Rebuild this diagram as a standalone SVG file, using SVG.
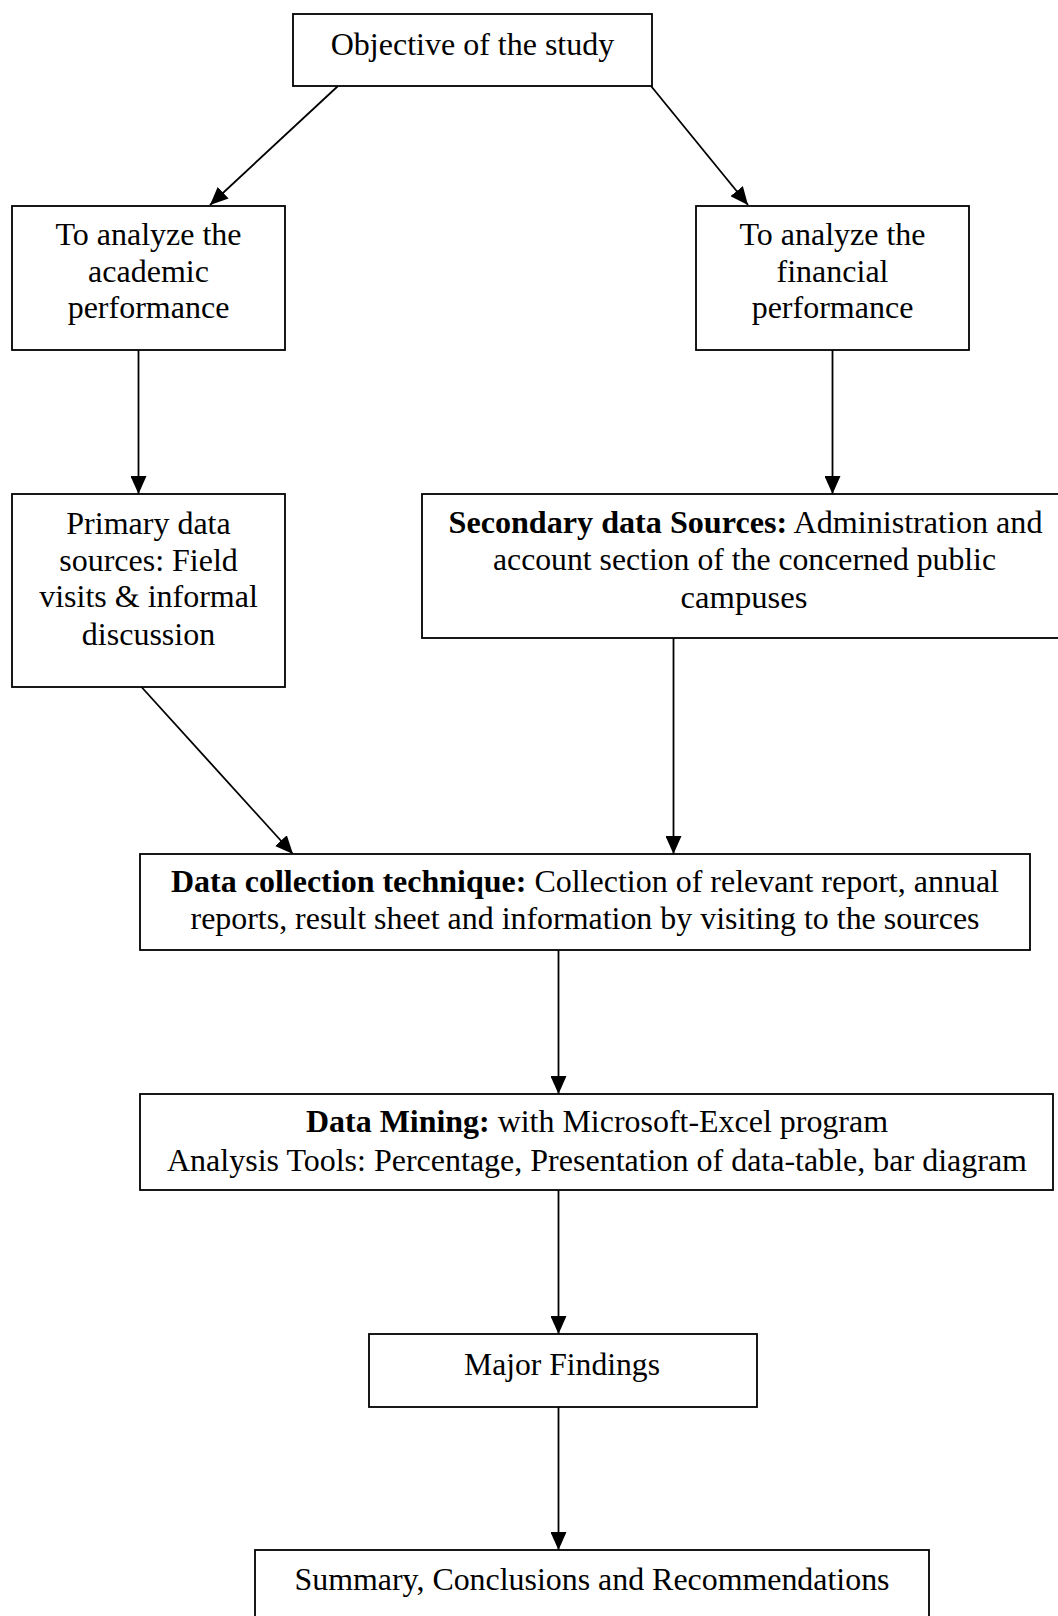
<svg xmlns="http://www.w3.org/2000/svg" width="1058" height="1616" viewBox="0 0 1058 1616">
<style>
.box{fill:#fff;stroke:#000;stroke-width:1.8}
.t{font-family:"Liberation Serif","Times New Roman",serif;font-size:32px;fill:#000;text-anchor:middle}
.c{font-size:31px}
.b{font-weight:bold}
.ln{fill:none;stroke:#000;stroke-width:1.8;marker-end:url(#ah)}
</style>
<defs>
<marker id="ah" markerUnits="userSpaceOnUse" markerWidth="18" markerHeight="16" viewBox="0 0 18 16" refX="18" refY="8" orient="auto">
<path d="M0,0 L18,8 L0,16 Z" fill="#000"/>
</marker>
</defs>
<rect width="1058" height="1616" fill="#fff"/>
<g id="connectors">
<line class="ln" x1="338" y1="86" x2="210" y2="205"/>
<line class="ln" x1="651" y1="86" x2="748" y2="205"/>
<line class="ln" x1="138.5" y1="350" x2="138.5" y2="494"/>
<line class="ln" x1="832.5" y1="350" x2="832.5" y2="494"/>
<line class="ln" x1="141.5" y1="687" x2="293" y2="854"/>
<line class="ln" x1="673.5" y1="638" x2="673.5" y2="854"/>
<line class="ln" x1="558.5" y1="950" x2="558.5" y2="1094"/>
<line class="ln" x1="558.5" y1="1190" x2="558.5" y2="1334"/>
<line class="ln" x1="558.5" y1="1407" x2="558.5" y2="1550"/>
</g>
<g id="objective">
<rect class="box" x="293" y="14" width="359" height="72"/>
<text class="t" x="472.5" y="55">Objective of the study</text>
</g>
<g id="academic">
<rect class="box" x="12" y="206" width="273" height="144"/>
<text class="t" x="148.5" y="245">To analyze the</text>
<text class="t" x="148.5" y="282">academic</text>
<text class="t" x="148.5" y="318">performance</text>
</g>
<g id="financial">
<rect class="box" x="696" y="206" width="273" height="144"/>
<text class="t" x="832.5" y="245">To analyze the</text>
<text class="t" x="832.5" y="282">financial</text>
<text class="t" x="832.5" y="318">performance</text>
</g>
<g id="primary">
<rect class="box" x="12" y="494" width="273" height="193"/>
<text class="t" x="148.5" y="534">Primary data</text>
<text class="t" x="148.5" y="571">sources: Field</text>
<text class="t" x="148.5" y="607">visits &amp; informal</text>
<text class="t" x="148.5" y="645">discussion</text>
</g>
<g id="secondary">
<rect class="box" x="422" y="494" width="648" height="144"/>
<text class="t" x="745.5" y="533" textLength="594" lengthAdjust="spacingAndGlyphs"><tspan class="b">Secondary data Sources:</tspan> Administration and</text>
<text class="t" x="744.5" y="570" textLength="503" lengthAdjust="spacingAndGlyphs">account section of the concerned public</text>
<text class="t" x="744" y="608" textLength="127" lengthAdjust="spacingAndGlyphs">campuses</text>
</g>
<g id="collection">
<rect class="box" x="140" y="854" width="890" height="96"/>
<text class="t c" x="585" y="892" textLength="828" lengthAdjust="spacingAndGlyphs"><tspan class="b">Data collection technique:</tspan> Collection of relevant report, annual</text>
<text class="t c" x="585" y="929" textLength="789" lengthAdjust="spacingAndGlyphs">reports, result sheet and information by visiting to the sources</text>
</g>
<g id="mining">
<rect class="box" x="140" y="1094" width="913" height="96"/>
<text class="t c" x="597" y="1132" textLength="582" lengthAdjust="spacingAndGlyphs"><tspan class="b">Data Mining:</tspan> with Microsoft-Excel program</text>
<text class="t c" x="597" y="1171" textLength="860" lengthAdjust="spacingAndGlyphs">Analysis Tools: Percentage, Presentation of data-table, bar diagram</text>
</g>
<g id="findings">
<rect class="box" x="369" y="1334" width="388" height="73"/>
<text class="t c" x="562" y="1375" textLength="196" lengthAdjust="spacingAndGlyphs">Major Findings</text>
</g>
<g id="summary">
<rect class="box" x="255" y="1550" width="674" height="80"/>
<text class="t c" x="592" y="1590" textLength="595" lengthAdjust="spacingAndGlyphs">Summary, Conclusions and Recommendations</text>
</g>
</svg>
